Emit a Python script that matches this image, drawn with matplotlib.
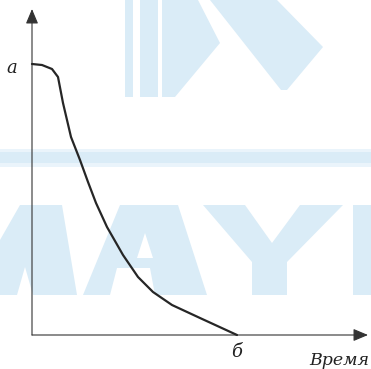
import matplotlib.pyplot as plt
from matplotlib.patches import Polygon

# curve (units: pixels from the axes origin)
t = [0, 10, 20, 26, 31, 39, 48, 56, 64, 75, 91, 106, 121, 140, 168, 205]
v = [271, 270, 266, 258, 232, 198, 175, 153, 132, 108, 80, 58, 43, 30, 17, 0]

y_label = "а"
x_end_label = "б"
x_title = "Время"

W, H = 371, 369
X0, Y0 = 32, 335  # axes origin in image pixels

fig = plt.figure(figsize=(W / 100, H / 100), dpi=100)
ax = fig.add_axes([0, 0, 1, 1])
ax.set_xlim(-X0, W - X0)
ax.set_ylim(Y0 - H, Y0)
ax.axis("off")


def px(pts):
    return [(x - X0, Y0 - y) for x, y in pts]


# faint watermark in the background
wm = "#daecf7"
wm_light = "#eaf4fb"
shapes = [
    [(0, 149), (371, 149), (371, 167), (0, 167)],
]
for s in shapes:
    ax.add_patch(Polygon(px(s), closed=True, fc=wm_light, ec="none", zorder=0))
main_shapes = [
    [(0, 152), (371, 152), (371, 163), (0, 163)],
    # top logo
    [(125, 0), (133, 0), (133, 97), (125, 97)],
    [(140, 0), (158, 0), (158, 97), (140, 97)],
    [(162, 0), (198, 0), (220, 43), (175, 97), (162, 97)],
    [(210, 0), (277, 0), (323, 47), (287, 90), (281, 90)],
    # letters
    [(20, 205), (62, 205), (77, 295), (0, 295), (0, 240)],
    [(120, 205), (178, 205), (207, 295), (83, 295)],
    [(203, 205), (245, 205), (272, 243), (300, 205), (343, 205),
     (287, 262), (287, 295), (252, 295), (252, 262)],
    [(353, 205), (371, 205), (371, 295), (353, 295)],
]
for s in main_shapes:
    ax.add_patch(Polygon(px(s), closed=True, fc=wm, ec="none", zorder=0))
holes = [
    [(17, 295), (25, 267), (33, 295)],
    [(137, 258), (145, 233), (153, 258)],
    [(110, 295), (117, 268), (150, 268), (155, 295)],
]
for s in holes:
    ax.add_patch(Polygon(px(s), closed=True, fc="white", ec="none", zorder=0.5))

# axes with arrows
arr = dict(arrowstyle="-|>,head_length=1.0,head_width=0.42", lw=0.8,
           color="#333333", shrinkA=0, shrinkB=0, mutation_scale=9)
ax.annotate("", xy=(0, Y0 - 9), xytext=(0, 0), arrowprops=arr)
ax.annotate("", xy=(368 - X0, 0), xytext=(0, 0), arrowprops=arr)

ax.plot(t, v, color="#262626", lw=1.6, zorder=3, solid_capstyle="round")

font = dict(family="DejaVu Serif", style="italic", color="#222222")
ax.text(12 - X0, Y0 - 73, y_label, ha="center", va="baseline", fontsize=13, **font)
ax.text(t[-1], Y0 - 357, x_end_label, ha="center", va="baseline", fontsize=13, **font)
ax.text(369 - X0, Y0 - 365, x_title, ha="right", va="baseline", fontsize=12.5, **font)

fig.savefig("out.png", dpi=100)
